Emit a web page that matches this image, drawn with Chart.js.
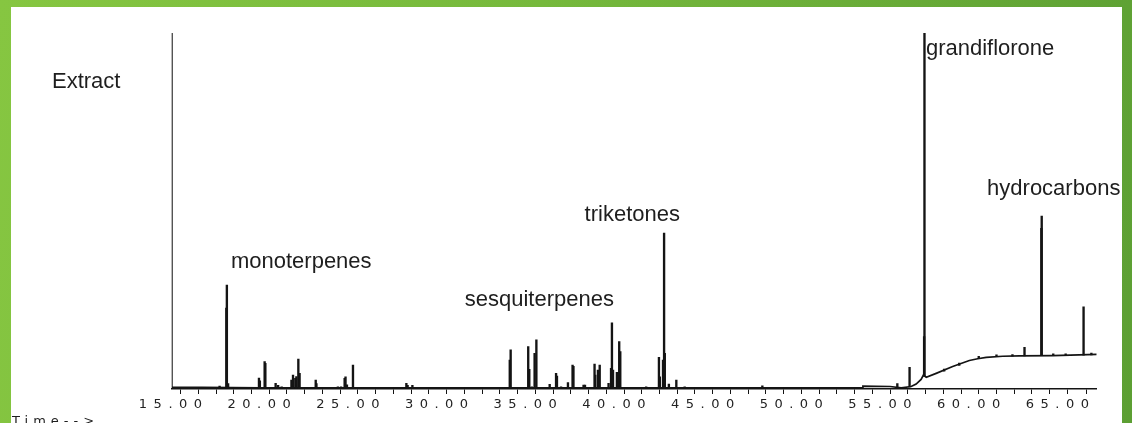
<!DOCTYPE html>
<html>
<head>
<meta charset="utf-8">
<script src="https://cdn.jsdelivr.net/npm/chart.js@4.4.1/dist/chart.umd.min.js"></script>
<style>
  html, body { margin: 0; padding: 0; }
  body {
    width: 1132px; height: 423px; overflow: hidden; position: relative;
    background: linear-gradient(100deg, #86c641 0%, #76b93c 45%, #5c9f33 100%);
  }
  #panel {
    position: absolute; left: 11px; top: 7px; width: 1111px; height: 416px;
    background: #ffffff;
  }
  canvas { display: block; }
</style>
</head>
<body>
<div id="panel"><canvas id="c" width="1111" height="416"></canvas></div>
<script>
// ---- Data (time in minutes, abundance in % of plot height) ----
// Peaks: retention time, top of the peak, level of the trace under the peak
const peakTimes = [
  17.70, 18.08, 18.11, 18.18, 19.92, 19.97, 20.24, 20.28, 20.86, 21.00, 21.20,
  21.75, 21.84, 21.97, 22.03, 22.14, 22.21, 23.12, 23.16, 24.37, 24.55, 24.75,
  24.80, 24.88, 25.22, 25.77, 28.23, 28.30, 28.57,
  33.71, 34.06, 34.11, 35.10, 35.16, 35.30, 35.46, 35.56, 36.31, 36.67, 36.72,
  36.95, 37.34, 37.60, 37.65, 38.22, 38.30, 38.84, 38.88, 39.03, 39.13, 39.63,
  39.77, 39.82, 39.88, 40.10, 40.16, 40.23, 40.29, 40.45, 41.66, 41.75, 41.85,
  42.47, 42.52, 42.70, 42.76, 42.80, 43.03, 43.45, 43.92, 46.79, 48.30,
  55.91, 56.60, 57.42, 57.44, 58.55, 59.40, 60.50, 61.50, 62.40, 63.08, 64.03,
  64.05, 64.70, 65.40, 66.41, 66.85
];
const peakTops = [
  0.8, 22.7, 29.2, 1.5, 3.1, 2.3, 7.7, 7.2, 1.6, 1.0, 0.6,
  2.5, 3.9, 3.0, 3.5, 8.4, 4.4, 2.5, 1.5, 0.6, 0.6, 3.0,
  3.4, 1.2, 6.7, 0.5, 1.6, 1.0, 1.0,
  0.4, 8.1, 11.0, 11.9, 5.5, 0.6, 10.0, 13.8, 1.3, 4.4, 3.6,
  0.6, 1.8, 6.7, 6.4, 1.1, 1.1, 7.0, 3.9, 5.3, 6.7, 1.6,
  5.8, 18.6, 5.3, 4.7, 4.7, 13.3, 10.5, 0.5, 0.4, 0.6, 0.4,
  8.9, 3.4, 8.1, 43.8, 10.0, 1.4, 2.5, 0.6, 0.5, 0.9,
  1.5, 6.1, 14.7, 100, 5.6, 7.3, 9.2, 9.6, 9.7, 11.7, 45.1,
  48.6, 9.9, 9.9, 23.1, 10.1
];
const peakBases = [
  0.3, 0.3, 0.3, 0.3, 0.3, 0.3, 0.3, 0.3, 0.3, 0.3, 0.3,
  0.3, 0.3, 0.3, 0.3, 0.3, 0.3, 0.3, 0.3, 0.3, 0.3, 0.3,
  0.3, 0.3, 0.3, 0.3, 0.3, 0.3, 0.3,
  0.3, 0.3, 0.3, 0.3, 0.3, 0.3, 0.3, 0.3, 0.3, 0.3, 0.3,
  0.3, 0.3, 0.3, 0.3, 0.3, 0.3, 0.3, 0.3, 0.3, 0.3, 0.3,
  0.3, 0.3, 0.3, 0.3, 0.3, 0.3, 0.3, 0.3, 0.3, 0.3, 0.3,
  0.3, 0.3, 0.3, 0.3, 0.3, 0.3, 0.3, 0.3, 0.3, 0.3,
  0.5, 0.6, 3.6, 3.6, 5.0, 6.6, 8.5, 9.1, 9.2, 9.3, 9.4,
  9.4, 9.4, 9.5, 9.5, 9.6
];
// Baseline trace (solvent front at the start, then the rising drift after 56 min)
const traceTimes  = [15.00, 15.01, 20.0, 30.0, 40.0, 50.0, 53.95, 53.97, 55.5, 56.13, 56.69, 56.97, 57.25, 57.38, 57.54, 58.10, 59.03, 59.97, 60.44, 60.92, 61.85, 62.79, 64.67, 67.15];
const traceValues = [100,   0.5,   0.3,  0.3,  0.3,  0.3,  0.3,   0.8,   0.7,  0.3,   0.7,   1.4,   2.7,   3.9,   3.3,   4.4,   6.3,   8.0,   8.5,   8.9,   9.2,   9.3,   9.4,   9.7];
// Axis
const timeMin = 15;
const timeMax = 67.15;
const tickStep = 1;
const labelStep = 5;
// Texts
const yTitle = "Extract";
const xTitle = "Time-->";
const groupNames = ["monoterpenes", "sesquiterpenes", "triketones", "grandiflorone", "hydrocarbons"];
const groupTimes = [18.34, 31.52, 38.28, 57.52, 60.97];
const groupLevels = [34.0, 23.4, 47.2, 93.8, 54.5];

// ---- build library structures ----
const peakData = peakTimes.map((t, i) => ({ x: t, y: [peakBases[i], peakTops[i]] }));
const traceData = traceTimes.map((t, i) => ({ x: t, y: traceValues[i] }));

const INK = '#141414';

const spacingPlugin = {
  id: 'spacing',
  beforeDraw(chart) { chart.ctx.letterSpacing = '6.5px'; },
  beforeDatasetsDraw(chart) { chart.ctx.letterSpacing = '0px'; },
  afterDraw(chart) {
    const ctx = chart.ctx;
    const xs = chart.scales.x, ys = chart.scales.y;
    ctx.save();
    ctx.fillStyle = '#1e1e1e';
    ctx.textBaseline = 'alphabetic';
    ctx.textAlign = 'left';
    ctx.font = '22px "Liberation Sans", Arial, sans-serif';
    ctx.letterSpacing = '0px';
    ctx.fillText(yTitle, 41, 81);
    groupNames.forEach((name, i) => {
      ctx.fillText(name, xs.getPixelForValue(groupTimes[i]), ys.getPixelForValue(groupLevels[i]));
    });
    ctx.font = '13px "DejaVu Sans", sans-serif';
    ctx.letterSpacing = '5px';
    ctx.fillText(xTitle, 1, 418);
    ctx.restore();
  }
};

new Chart(document.getElementById('c'), {
  type: 'bar',
  data: {
    datasets: [
      {
        type: 'bar',
        data: peakData,
        backgroundColor: INK,
        borderWidth: 0,
        barThickness: 1.7,
        grouped: false
      },
      {
        type: 'line',
        data: traceData,
        borderColor: INK,
        borderWidth: 1.7,
        pointRadius: 0,
        tension: 0,
        fill: false
      }
    ]
  },
  options: {
    responsive: false,
    animation: false,
    events: [],
    layout: { padding: { left: 160.7, right: 25.3, top: 26, bottom: 0 } },
    plugins: { legend: { display: false }, tooltip: { enabled: false } },
    scales: {
      x: {
        type: 'linear',
        min: timeMin,
        max: timeMax,
        position: 'bottom',
        offset: false,
        afterFit(scale) { scale.height = 34; },
        border: { display: true, color: INK, width: 1.5 },
        grid: { display: true, drawOnChartArea: false, drawTicks: true, tickLength: 5, tickColor: INK, tickWidth: 1 },
        ticks: {
          stepSize: tickStep,
          autoSkip: false,
          maxRotation: 0,
          minRotation: 0,
          padding: 3,
          labelOffset: 2,
          color: '#222',
          font: { family: '"DejaVu Sans", sans-serif', size: 13 },
          callback: (v) => (Math.abs(v % labelStep) < 1e-9 ? v.toFixed(2) : '')
        }
      },
      y: { display: false, min: 0, max: 100 }
    }
  },
  plugins: [spacingPlugin]
});
</script>
</body>
</html>
